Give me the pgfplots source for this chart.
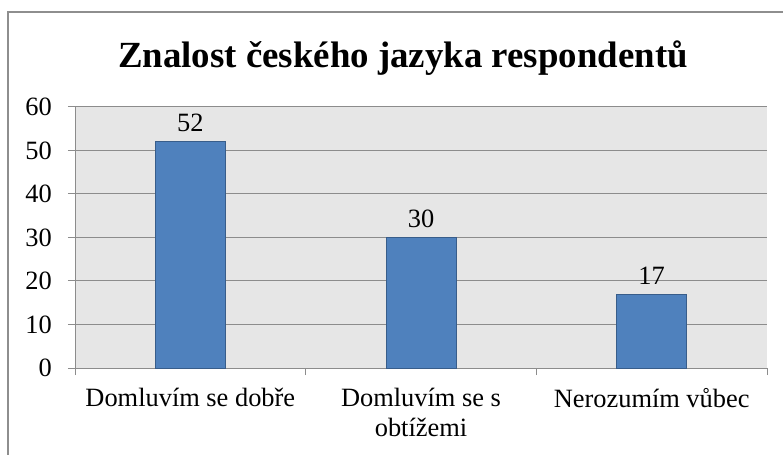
\documentclass[border=0pt]{standalone}
\usepackage{pgfplots}
\pgfplotsset{compat=1.18}
\usepackage{fontspec}
\setmainfont{Liberation Serif}

\definecolor{barfill}{HTML}{4F81BD}
\definecolor{barline}{HTML}{385D8A}
\definecolor{plotbg}{HTML}{E6E6E6}
\definecolor{gridgray}{HTML}{8C8C8C}
\definecolor{framegray}{HTML}{8E8E8E}

\begin{document}
\begin{tikzpicture}
  \path[use as bounding box] (0bp,0bp) rectangle (783bp,455bp);
  % outer chart frame (only left and top edges are visible)
  \draw[framegray, line width=1.5bp] (8bp,-5bp) -- (8bp,443bp) -- (790bp,443bp);
  \node[font=\fontsize{37}{42}\selectfont\bfseries] at (403bp,397bp) {Znalost českého jazyka respondentů};

  \begin{axis}[
      at={(75bp,87bp)}, anchor=south west,
      scale only axis,
      width=692bp, height=261bp,
      ybar, bar width=70bp,
      xmin=-0.5, xmax=2.5,
      ymin=0, ymax=60,
      ytick={0,10,...,60},
      xtick={0,1,2},
      xticklabels={Domluvím se dobře, Domluvím se s\\obtížemi, Nerozumím vůbec},
      minor xtick={-0.5,0.5,1.5,2.5},
      major x tick style={draw=none},
      tick align=outside,
      major tick length=7bp, minor tick length=7bp,
      axis x line*=bottom, axis y line*=left,
      axis line style={gridgray, line width=1bp, -},
      tick style={gridgray, line width=1bp},
      ymajorgrids,
      grid style={gridgray, line width=1bp},
      axis background/.style={fill=plotbg},
      tick label style={font=\fontsize{26.5}{30}\selectfont, text=black},
      xticklabel style={align=center},
      xticklabel shift=10bp,
      yticklabel style={anchor=east, inner sep=0pt},
      yticklabel shift=16bp,
      /pgf/number format/assume math mode=true,
      nodes near coords,
      every node near coord/.append style={font=\fontsize{26.5}{30}\selectfont, text=black, yshift=6bp},
    ]
    \addplot[fill=barfill, draw=barline, line width=1bp] coordinates {
      (0,52) (1,30) (2,17)
    };
  \end{axis}
\end{tikzpicture}
\end{document}
